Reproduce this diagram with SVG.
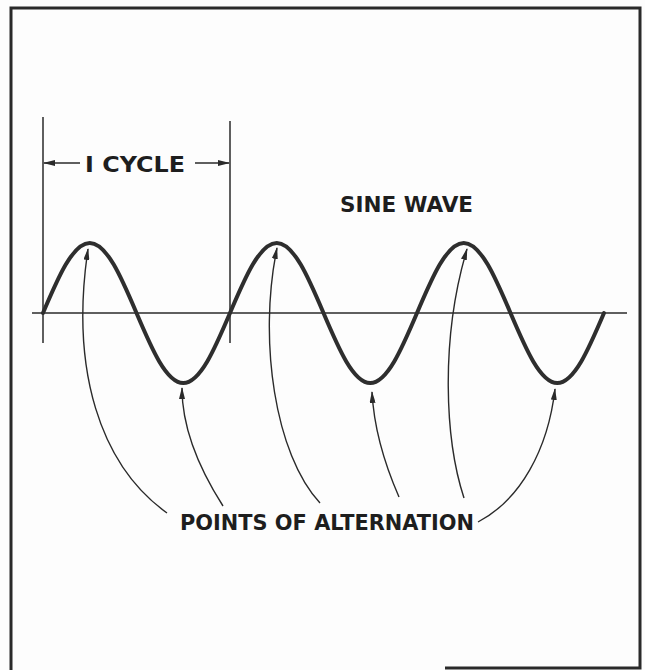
<svg xmlns="http://www.w3.org/2000/svg" width="645" height="670" viewBox="0 0 645 670">
<style>
.frame{fill:none;stroke:#2a2a2a;stroke-width:3}
.thin{fill:none;stroke:#2a2a2a;stroke-width:1.5}
.wave{fill:none;stroke:#2e2e2e;stroke-width:4;stroke-linecap:round;stroke-linejoin:round}
.conn{fill:none;stroke:#2a2a2a;stroke-width:1.4;marker-end:url(#ah)}
.lbl{font-family:"DejaVu Sans","Liberation Sans",sans-serif;font-size:20.5px;font-weight:bold;fill:#1e1e1e}
</style>
<defs>
<marker id="ah" markerUnits="userSpaceOnUse" markerWidth="12" markerHeight="6" refX="11" refY="3" orient="auto">
<path d="M0,0 L12,3 L0,6 z" fill="#2a2a2a"/>
</marker>
</defs>
<rect width="645" height="670" fill="#fdfdfd"/>
<path class="frame" d="M11,670 L11,8 L640,8 L640,668 L445,668"/>
<g id="axis">
<line class="thin" x1="32" y1="313" x2="627" y2="313"/>
</g>
<g id="cycle">
<line class="thin" x1="43" y1="117" x2="43" y2="343"/>
<line class="thin" x1="230" y1="121" x2="230" y2="343"/>
<line class="thin" x1="80" y1="163" x2="44" y2="163" marker-end="url(#ah)"/>
<line class="thin" x1="195" y1="163" x2="229" y2="163" marker-end="url(#ah)"/>
<text class="lbl" x="85" y="172" textLength="100" lengthAdjust="spacingAndGlyphs">I CYCLE</text>
</g>
<g id="sine-wave">
<path class="wave" d="M43,313 c15.25,-35.86 29.83,-70 46.75,-70 c16.92,0 31.5,34.14 46.75,70 c15.25,35.86 29.83,70 46.75,70 c16.92,0 31.5,-34.14 46.75,-70 c15.25,-35.86 29.83,-70 46.75,-70 c16.92,0 31.5,34.14 46.75,70 c15.25,35.86 29.83,70 46.75,70 c16.92,0 31.5,-34.14 46.75,-70 c15.25,-35.86 29.83,-70 46.75,-70 c16.92,0 31.5,34.14 46.75,70 c15.25,35.86 29.83,70 46.75,70 c16.92,0 31.5,-34.14 46.75,-70"/>
<text class="lbl" x="340" y="212" textLength="133" lengthAdjust="spacingAndGlyphs">SINE WAVE</text>
</g>
<g id="points-label">
<text class="lbl" x="180" y="530" textLength="294" lengthAdjust="spacingAndGlyphs">POINTS OF ALTERNATION</text>
</g>
<g id="connectors">
<path class="conn" d="M167,513 C100,465 70,370 88,249"/>
<path class="conn" d="M223,506 C200,470 182,430 182,388"/>
<path class="conn" d="M320,503 C275,455 258,340 277,248"/>
<path class="conn" d="M399,497 C385,465 374,430 372,392"/>
<path class="conn" d="M464,498 C445,440 440,340 467,249"/>
<path class="conn" d="M478,522 C520,500 548,450 555,389"/>
</g>
</svg>
